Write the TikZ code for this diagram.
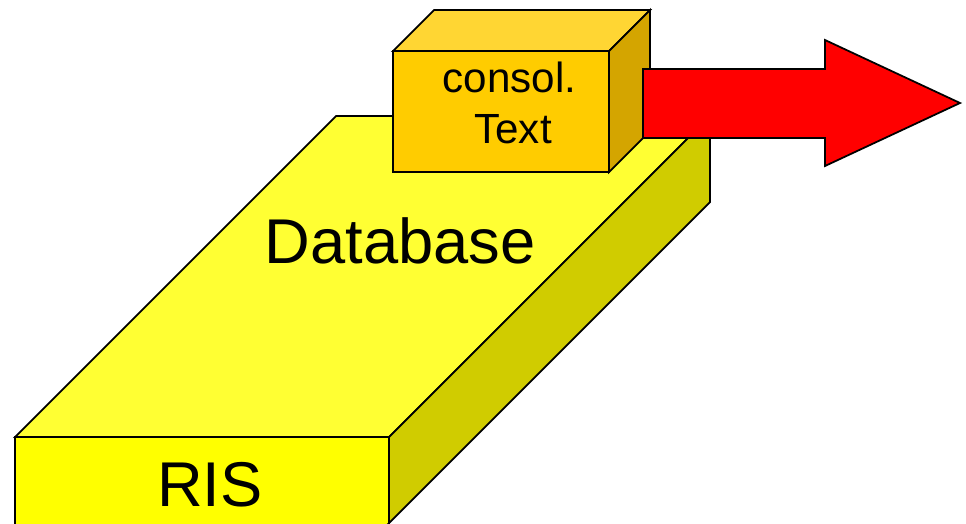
\documentclass[tikz,border=0pt]{standalone}
\usepackage{fontspec}
\setmainfont{Liberation Sans}
\definecolor{slabtop}{RGB}{255,255,51}
\definecolor{slabfront}{RGB}{255,255,0}
\definecolor{slabside}{RGB}{208,204,0}
\definecolor{boxtop}{RGB}{255,214,51}
\definecolor{boxfront}{RGB}{255,204,0}
\definecolor{boxside}{RGB}{212,165,0}
\begin{document}
\begin{tikzpicture}[scale=0.2]
		\tikzstyle{every node}+=[inner sep=0pt, anchor=base]
		\tikzstyle{edge}=[black, line width=1pt, line join=miter]
		\useasboundingbox (0,0) rectangle (96.6,-52.3);
		\clip (0,0) rectangle (96.6,-52.3);
		\draw [edge, fill=slabfront] (1.5,-43.7) rectangle (38.9,-54);
		\draw [edge, fill=slabtop] (1.5,-43.7) -- (33.6,-11.6) -- (71,-11.6) -- (38.9,-43.7) -- cycle;
		\draw [edge, fill=slabside] (38.9,-43.7) -- (71,-11.6) -- (71,-20.2) -- (37.2,-54) -- (38.9,-54) -- cycle;
		\draw [edge, fill=boxfront] (39.3,-5.1) rectangle (60.9,-17.2);
		\draw [edge, fill=boxtop] (39.3,-5.1) -- (43.4,-1) -- (65,-1) -- (60.9,-5.1) -- cycle;
		\draw [edge, fill=boxside] (60.9,-5.1) -- (65,-1) -- (65,-13.1) -- (60.9,-17.2) -- cycle;
		\draw [edge, fill=red] (64.3,-6.9) -- (82.5,-6.9) -- (82.5,-4) -- (96,-10.3) -- (82.5,-16.6) -- (82.5,-13.8) -- (64.3,-13.8) -- cycle;
		\draw (40,-26.3) node (db) {\fontsize{36}{43}\selectfont Database};
		\draw (21,-50.6) node (ris) {\fontsize{36}{43}\selectfont RIS};
		\draw (50.95,-9.2) node (consol) {\fontsize{24}{29}\selectfont consol.};
		\draw (51.3,-14.3) node (text) {\fontsize{24}{29}\selectfont Text};
\end{tikzpicture}
\end{document}
